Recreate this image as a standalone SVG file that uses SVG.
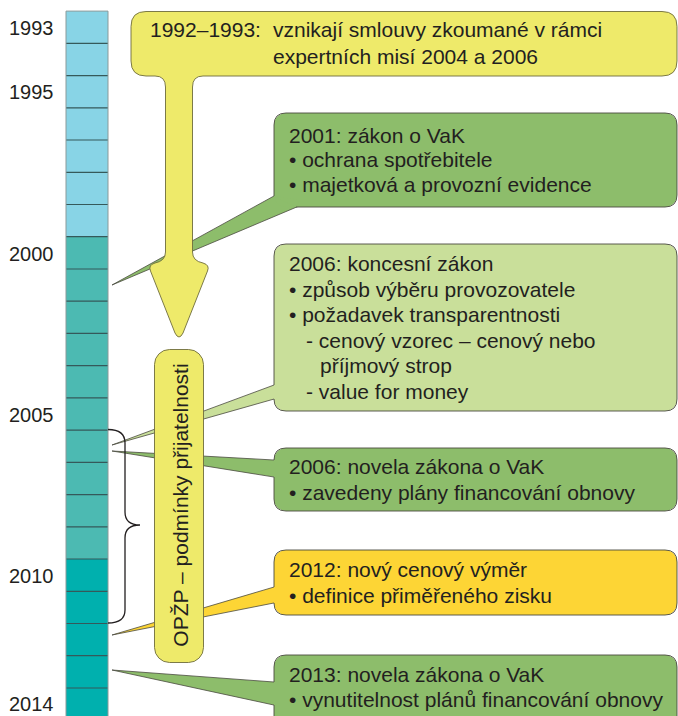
<svg xmlns="http://www.w3.org/2000/svg" width="678" height="716" viewBox="0 0 678 716">
<style>
text{font-family:"Liberation Sans",Arial,sans-serif;fill:#231f20}
.yr{font-size:20px;text-anchor:end}
.t{font-size:21px}
.div{stroke:#35595a;stroke-width:1.2}
.tail{stroke:#4a4a40;stroke-width:0.8;stroke-linejoin:miter}
.edge{fill:none;stroke:#4a4a40;stroke-width:0.9}
.dg{fill:#8dbd6b}
.lg{fill:#c9df9a}
.gd{fill:#fdd535}
.ye{fill:#eeea6a}
</style>

<g id="timeline">
  <rect x="66" y="11.1" width="42" height="225.6" fill="#88d4e6"/>
  <rect x="66" y="236.7" width="42" height="322.3" fill="#4cbab2"/>
  <rect x="66" y="559" width="42" height="160" fill="#00b0ae"/>
  <g class="div">
    <line x1="66" y1="43.3" x2="108" y2="43.3"/>
    <line x1="66" y1="75.6" x2="108" y2="75.6"/>
    <line x1="66" y1="107.8" x2="108" y2="107.8"/>
    <line x1="66" y1="140" x2="108" y2="140"/>
    <line x1="66" y1="172.3" x2="108" y2="172.3"/>
    <line x1="66" y1="204.5" x2="108" y2="204.5"/>
    <line x1="66" y1="236.7" x2="108" y2="236.7"/>
    <line x1="66" y1="269" x2="108" y2="269"/>
    <line x1="66" y1="301.2" x2="108" y2="301.2"/>
    <line x1="66" y1="333.4" x2="108" y2="333.4"/>
    <line x1="66" y1="365.7" x2="108" y2="365.7"/>
    <line x1="66" y1="397.9" x2="108" y2="397.9"/>
    <line x1="66" y1="430.1" x2="108" y2="430.1"/>
    <line x1="66" y1="462.4" x2="108" y2="462.4"/>
    <line x1="66" y1="494.6" x2="108" y2="494.6"/>
    <line x1="66" y1="526.8" x2="108" y2="526.8"/>
    <line x1="66" y1="559" x2="108" y2="559"/>
    <line x1="66" y1="591.3" x2="108" y2="591.3"/>
    <line x1="66" y1="623.5" x2="108" y2="623.5"/>
    <line x1="66" y1="655.7" x2="108" y2="655.7"/>
    <line x1="66" y1="688" x2="108" y2="688"/>
  </g>
  <path d="M66,720 V11.1 H108 V720" fill="none" stroke="#8a9a9a" stroke-width="1"/>
  <text class="yr" x="53.5" y="34.5">1993</text>
  <text class="yr" x="53.5" y="99">1995</text>
  <text class="yr" x="53.5" y="260.5">2000</text>
  <text class="yr" x="53.5" y="421.5">2005</text>
  <text class="yr" x="53.5" y="582.5">2010</text>
  <text class="yr" x="53.5" y="711">2014</text>
</g>

<g id="connectors">
  <polygon class="tail dg" points="112,285 290,187.2 310,201.4"/>
  <polygon class="tail lg" points="112,445 290,379.1 290,394.5"/>
  <polygon class="tail dg" points="112,451 290,460.9 290,479.6"/>
  <polygon class="tail gd" points="112,635 290,582.3 290,599.8"/>
  <polygon class="tail dg" points="112,670 290,683.2 290,708.5"/>
</g>

<g id="n2001">
  <rect class="dg" x="274" y="113" width="403" height="94" rx="12"/>
  <path class="dg" d="M274,196 L296,207.3 L300,200 Z"/>
  <path class="edge" d="M274,196 V125 Q274,113 286,113 H665 Q677,113 677,125 V195 Q677,207 665,207 H296"/>
  <text class="t" x="289" y="142.5">2001: zákon o VaK</text>
  <text class="t" x="289" y="167">• ochrana spotřebitele</text>
  <text class="t" x="289" y="192">• majetková a provozní evidence</text>
</g>

<g id="n2006k">
  <rect class="lg" x="274" y="244" width="403" height="167" rx="12"/>
  <path class="edge" d="M274,385 V256 Q274,244 286,244 H665 Q677,244 677,256 V399 Q677,411 665,411 H286 Q274,411 274,399"/>
  <text class="t" x="289" y="271">2006: koncesní zákon</text>
  <text class="t" x="289" y="296.5">• způsob výběru provozovatele</text>
  <text class="t" x="289" y="322">• požadavek transparentnosti</text>
  <text class="t" x="306" y="347.5">- cenový vzorec – cenový nebo</text>
  <text class="t" x="320" y="373">příjmový strop</text>
  <text class="t" x="306" y="398.5">- value for money</text>
</g>

<g id="n2006n">
  <rect class="dg" x="274" y="448" width="403" height="63" rx="12"/>
  <path class="edge" d="M274,477 V499 Q274,511 286,511 H665 Q677,511 677,499 V460 Q677,448 665,448 H286 Q274,448 274,460"/>
  <text class="t" x="289" y="474">2006: novela zákona o VaK</text>
  <text class="t" x="289" y="499.5">• zavedeny plány financování obnovy</text>
</g>

<g id="n2012">
  <rect class="gd" x="274" y="550" width="403" height="65" rx="12"/>
  <path class="edge" d="M274,587 V562 Q274,550 286,550 H665 Q677,550 677,562 V603 Q677,615 665,615 H286 Q274,615 274,603"/>
  <text class="t" x="289" y="577">2012: nový cenový výměr</text>
  <text class="t" x="289" y="602.5">• definice přiměřeného zisku</text>
</g>

<g id="n2013">
  <rect class="dg" x="274" y="655" width="403" height="80" rx="12"/>
  <path class="edge" d="M274,682 V667 Q274,655 286,655 H665 Q677,655 677,667 V725 M274,705 V725"/>
  <text class="t" x="289" y="682">2013: novela zákona o VaK</text>
  <text class="t" x="289" y="707">• vynutitelnost plánů financování obnovy</text>
</g>

<g id="n1992">
  <path class="ye" stroke="#6e6c3c" stroke-width="0.9" d="M146,11.5 H662 Q677,11.5 677,26.5 V61 Q677,76 662,76 H203 Q192.5,76 192.5,87 V252 Q192.5,261 203,263 Q210,265 207.5,271 L183,333 Q179,341 175,333 L150.5,271 Q148,265 155,263 Q165.5,261 165.5,252 V87 Q165.5,76 155,76 H146 Q131,76 131,61 V26.5 Q131,11.5 146,11.5 Z"/>
  <text class="t" x="150" y="37">1992–1993:</text>
  <text class="t" x="273" y="37">vznikají smlouvy zkoumané v rámci</text>
  <text class="t" x="273" y="64">expertních misí 2004 a 2006</text>
</g>

<g id="opzp">
  <rect class="ye" x="154.5" y="349.5" width="49" height="313" rx="15" stroke="#6e6c3c" stroke-width="0.9"/>
  <text class="t" transform="translate(188,505) rotate(-90)" text-anchor="middle">OPŽP – podmínky přijatelnosti</text>
</g>

<g id="brace">
  <path d="M108,429.5 Q125,429.5 125,443 V512 Q125,525 140,525 Q125,525 125,538 V610 Q125,623 108,623" fill="none" stroke="#231f20" stroke-width="1.3"/>
</g>
</svg>
